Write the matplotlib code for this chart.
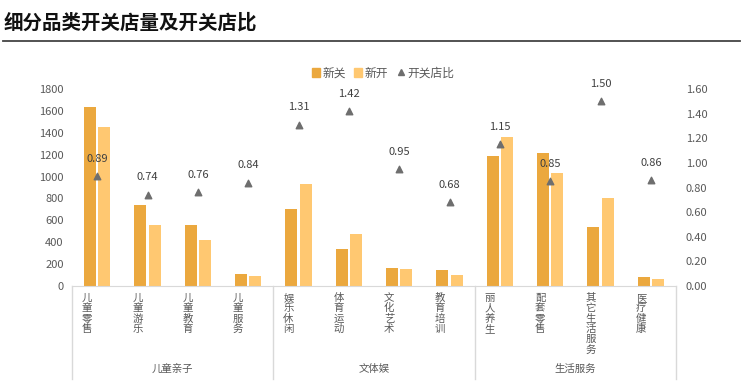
import numpy as np
import matplotlib
matplotlib.use("Agg")
import matplotlib.pyplot as plt
from matplotlib.lines import Line2D
from matplotlib.patches import Patch
import matplotlib.transforms as mtransforms

plt.rcParams['font.family'] = ['Noto Sans CJK SC', 'DejaVu Sans']

# data
categories = ["儿童零售", "儿童游乐", "儿童教育", "儿童服务",
              "娱乐休闲", "体育运动", "文化艺术", "教育培训",
              "丽人养生", "配套零售", "其它生活服务", "医疗健康"]
groups = ["儿童亲子", "文体娱", "生活服务"]
group_sizes = [4, 4, 4]
closed = [1640, 740, 560, 110, 705, 335, 165, 145, 1190, 1215, 540, 82]
opened = [1455, 555, 420, 92, 930, 475, 155, 100, 1365, 1035, 805, 68]
ratio = [0.89, 0.74, 0.76, 0.84, 1.31, 1.42, 0.95, 0.68, 1.15, 0.85, 1.50, 0.86]

c_close = "#EBA83E"
c_open = "#FFC871"
c_tri = "#6E6E6E"
c_txt = "#595959"
c_grid = "#D9D9D9"

fig = plt.figure(figsize=(7.42, 3.86), dpi=100)
W, H = 742, 386
ax = fig.add_axes([72 / W, 1 - 286 / H, 604 / W, 197 / H])

x = np.arange(len(categories))
bw = 0.24
ax.bar(x - 0.14, closed, bw, color=c_close, zorder=2)
ax.bar(x + 0.14, opened, bw, color=c_open, zorder=2)
ax.set_xlim(-0.5, len(categories) - 0.5)
ax.set_ylim(0, 1800)
ax.set_yticks(np.arange(0, 1801, 200))
ax.set_xticks([])
for s in ["top", "left", "right"]:
    ax.spines[s].set_visible(False)
ax.spines["bottom"].set_color(c_grid)
ax.tick_params(axis="y", length=0, labelsize=8, labelcolor=c_txt, pad=6)

ax2 = ax.twinx()
ax2.set_ylim(0, 1.6)
ax2.set_yticks(np.arange(0, 1.61, 0.2))
ax2.set_yticklabels([f"{v:.2f}" for v in np.arange(0, 1.61, 0.2)])
for s in ["top", "left", "right", "bottom"]:
    ax2.spines[s].set_visible(False)
ax2.tick_params(axis="y", length=0, labelsize=8, labelcolor=c_txt, pad=7)
ax2.scatter(x, ratio, marker="^", s=22, color=c_tri, zorder=3)
for xi, r in zip(x, ratio):
    ax2.annotate(f"{r:.2f}", (xi, r), xytext=(0, 9), textcoords="offset points",
                 ha="center", va="bottom", fontsize=8, color="#404040")

# category labels, stacked vertically
trans = mtransforms.blended_transform_factory(ax.transData, ax.transAxes)
for xi, name in zip(x, categories):
    ax.text(xi - 0.2, -0.035, "\n".join(name), transform=trans, ha="center", va="top",
            fontsize=7.5, color=c_txt, linespacing=1.04)

# group labels and separators
start = 0
bounds = [-0.5]
for g, n in zip(groups, group_sizes):
    mid = start + (n - 1) / 2
    ax.text(mid, -0.42, g, transform=trans, ha="center", va="center",
            fontsize=7.5, color=c_txt)
    start += n
    bounds.append(start - 0.5)
for b in bounds:
    ax.add_line(Line2D([b, b], [0, -0.47], transform=trans, color=c_grid,
                       lw=1, clip_on=False))

# legend
handles = [Patch(color=c_close, label="新关"), Patch(color=c_open, label="新开"),
           Line2D([], [], marker="^", ls="", color=c_tri, markersize=5, label="开关店比")]
fig.legend(handles=handles, loc="center", bbox_to_anchor=(383 / W, 1 - 73 / H), ncol=3,
           frameon=False, fontsize=8.5, handlelength=0.7, handleheight=0.7,
           handletextpad=0.2, columnspacing=0.7, labelcolor=c_txt)

# title and rule
fig.text(4 / W, 1 - 23 / H, "细分品类开关店量及开关店比", fontsize=14, fontweight="bold",
         ha="left", va="center", color="#111111")
fig.add_artist(Line2D([3 / W, 740 / W], [1 - 41 / H, 1 - 41 / H], transform=fig.transFigure,
                      color="#444444", lw=1.3))

fig.savefig("out.png", dpi=100)
